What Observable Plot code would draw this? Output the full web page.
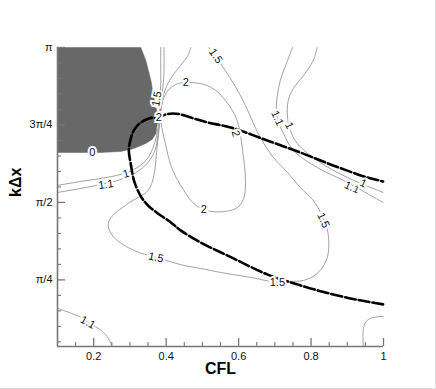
<!DOCTYPE html>
<html><head><meta charset="utf-8">
<script src="https://cdn.jsdelivr.net/npm/d3@7"></script>
<script src="https://cdn.jsdelivr.net/npm/@observablehq/plot@0.6"></script>
<style>
body{margin:0;background:#fff;}
#wrap{width:435px;height:388px;border-right:1px solid #dcdcdc;border-bottom:1px solid #dcdcdc;overflow:hidden;}
</style></head><body><div id="wrap"></div>
<script>
const PI = Math.PI;

// axis ticks
const xTickValues = [0.2, 0.4, 0.6, 0.8, 1];
const xTickLabels = ["0.2", "0.4", "0.6", "0.8", "1"];
const xMinorTicks = [0.15,0.25,0.3,0.35,0.45,0.5,0.55,0.65,0.7,0.75,0.85,0.9,0.95];
const yTickValues = [PI/4, PI/2, 3*PI/4, PI];
const yTickLabels = ["π/4", "π/2", "3π/4", "π"];
const yMinorTicks = [1,2,3,4,6,7,8,9,11,12,13,14,16,17,18,19].map(k => k*PI/20);

// gray region (amplification factor 0 region)
const zeroRegion = [[0.1,3.142],[0.330,3.142],[0.344,3.010],[0.358,2.807],[0.366,2.635],[0.374,2.503],[0.377,2.402],[0.374,2.331],[0.372,2.270],[0.361,2.209],[0.344,2.169],[0.311,2.118],[0.275,2.088],[0.220,2.077],[0.1,2.077]];

// thick dashed curve
const thickCurve = [[0.999,0.537],[0.935,0.578],[0.861,0.638],[0.770,0.730],[0.679,0.841],[0.586,1.003],[0.495,1.165],[0.440,1.287],[0.413,1.368],[0.377,1.459],[0.350,1.540],[0.330,1.632],[0.311,1.794],[0.303,1.946],[0.297,2.098],[0.303,2.229],[0.314,2.321],[0.330,2.381],[0.352,2.422],[0.372,2.432],[0.385,2.442],[0.399,2.463],[0.418,2.473],[0.440,2.463],[0.476,2.422],[0.515,2.381],[0.578,2.331],[0.679,2.199],[0.770,2.077],[0.861,1.946],[0.955,1.824],[0.999,1.784]];

// contour level 2 (loop through the singular point)
const c2Loop = [[0.383,2.452],[0.391,2.604],[0.405,2.706],[0.427,2.767],[0.454,2.787],[0.504,2.767],[0.537,2.706],[0.564,2.604],[0.586,2.483],[0.600,2.351],[0.611,2.098],[0.619,1.794],[0.614,1.611],[0.597,1.520],[0.564,1.480],[0.523,1.480],[0.495,1.510],[0.468,1.591],[0.449,1.692],[0.429,1.814],[0.413,1.946],[0.399,2.148],[0.388,2.331],[0.383,2.452]];

// contour level 1.5
const c15Main = [[0.518,3.142],[0.550,2.979],[0.586,2.777],[0.619,2.554],[0.641,2.371],[0.660,2.229],[0.696,2.027],[0.735,1.875],[0.770,1.723],[0.806,1.591],[0.834,1.409],[0.847,1.257],[0.845,1.013],[0.817,0.851],[0.779,0.780],[0.735,0.770],[0.707,0.760],[0.633,0.811],[0.550,0.861],[0.495,0.902],[0.449,0.932],[0.372,1.013],[0.311,1.084],[0.256,1.216],[0.240,1.338],[0.248,1.419],[0.295,1.561],[0.350,1.692],[0.366,1.844],[0.374,2.098],[0.380,2.300],[0.383,2.452]];
const c15Upper = [[0.468,3.142],[0.460,3.060],[0.440,2.959],[0.418,2.858],[0.402,2.757],[0.391,2.635],[0.383,2.452]];

// contour levels 1 and 1.1
const c1Left = [[0.1,1.743],[0.165,1.784],[0.220,1.814],[0.275,1.855],[0.311,1.905],[0.344,1.996],[0.363,2.118],[0.374,2.250],[0.380,2.402],[0.383,2.452]];
const c11Left = [[0.1,1.672],[0.165,1.713],[0.220,1.753],[0.275,1.804],[0.317,1.875],[0.350,1.976],[0.369,2.098],[0.377,2.250],[0.383,2.402],[0.383,2.452]];
const c1Up = [[0.385,3.142],[0.385,2.908],[0.385,2.757],[0.383,2.604],[0.383,2.452]];
const c11Up = [[0.394,3.142],[0.394,2.908],[0.391,2.736],[0.385,2.604],[0.383,2.452]];
const c11Right = [[0.749,3.142],[0.732,2.979],[0.715,2.807],[0.707,2.655],[0.704,2.523],[0.710,2.381],[0.724,2.270],[0.751,2.098],[0.817,1.925],[0.889,1.794],[0.999,1.571]];
const c1Right = [[0.817,3.142],[0.806,3.010],[0.779,2.858],[0.751,2.726],[0.737,2.604],[0.735,2.432],[0.743,2.300],[0.762,2.169],[0.817,1.996],[0.900,1.824],[0.999,1.672]];
const c11BottomLeft = [[0.1,0.497],[0.165,0.405],[0.184,0.355],[0.220,0.274],[0.240,0.193],[0.250,0.11]];
const c11BottomRight = [[0.999,0.415],[0.963,0.395],[0.949,0.345],[0.944,0.274],[0.944,0.11]];

const thinLines = [c2Loop, c15Main, c15Upper, c1Left, c11Left, c1Up, c11Up, c11Right, c1Right, c11BottomLeft, c11BottomRight];

// contour labels
const labelText = ["0","1.1","1","1.5","2","2","1.5","2","1.1","1","1.1","1","2","1.5","1.5","1.5","1.1"];
const labelX = [0.196,0.234,0.289,0.374,0.380,0.454,0.537,0.592,0.707,0.740,0.913,0.944,0.504,0.834,0.707,0.372,0.184];
const labelY = [2.077,1.753,1.860,2.620,2.430,2.787,3.055,2.270,2.425,2.350,1.723,1.763,1.500,1.390,0.760,1.013,0.355];
const labelAngle = [0,-8,-15,-80,0,0,55,75,65,65,25,25,0,65,0,12,28];
const labels = labelText.map((t,i) => ({t, x: labelX[i], y: labelY[i], r: labelAngle[i]}));

const W = 435, H = 388, mL = 57, mR = 52, mT = 47, mB = 42;
const frameW = W - mL - mR, frameH = H - mT - mB;
const axisColor = "#777";
const thinColor = "#8a8a8a";

const chart = Plot.plot({
  width: W, height: H,
  marginLeft: mL, marginRight: mR, marginTop: mT, marginBottom: mB,
  x: {domain: [0.1, 1]},
  y: {domain: [0.11, PI]},
  style: {fontFamily: "'Liberation Sans', Arial, Helvetica, sans-serif", fontSize: "11px", background: "white", color: "#111"},
  marks: [
    Plot.line(zeroRegion, {x: d => d[0], y: d => d[1], fill: "#686868", stroke: "#686868", strokeWidth: 0.5, curve: "linear"}),
    ...thinLines.map(c => Plot.line(c, {x: d => d[0], y: d => d[1], stroke: thinColor, strokeWidth: 0.8, curve: "catmull-rom"})),
    Plot.line(thickCurve, {x: d => d[0], y: d => d[1], stroke: "black", strokeWidth: 2.6, strokeDasharray: "11,3", curve: "catmull-rom"}),
    Plot.text(labels, {x: "x", y: "y", text: "t", rotate: "r", fontSize: 11, fill: "#111", stroke: "white", strokeWidth: 4, strokeLinejoin: "miter"}),
    // axes lines
    Plot.ruleY([0.11], {stroke: axisColor, strokeWidth: 1.6}),
    Plot.ruleX([0.1], {stroke: axisColor, strokeWidth: 1.6}),
    // inward ticks
    Plot.tickX(xTickValues, {x: d => d, insetTop: frameH - 8, stroke: axisColor, strokeWidth: 1.3}),
    Plot.tickX(xMinorTicks, {x: d => d, insetTop: frameH - 4, stroke: axisColor, strokeWidth: 1.1}),
    Plot.tickY(yTickValues, {y: d => d, insetRight: frameW - 8, stroke: axisColor, strokeWidth: 1.3}),
    Plot.tickY(yMinorTicks, {y: d => d, insetRight: frameW - 4, stroke: axisColor, strokeWidth: 1.1}),
    Plot.axisX({ticks: xTickValues, tickFormat: d => xTickLabels[xTickValues.indexOf(d)], tickSize: 0, tickPadding: 6, label: null, fontSize: 11}),
    Plot.axisY({ticks: yTickValues, tickFormat: d => yTickLabels[yTickValues.indexOf(d)], tickSize: 0, tickPadding: 5, label: null, fontSize: 11}),
    Plot.text(["CFL"], {frameAnchor: "bottom", dy: 27, fontSize: 16, fontWeight: "bold", fill: "#000"}),
    Plot.text(["kΔx"], {frameAnchor: "left", dx: -42, rotate: -90, fontSize: 16, fontWeight: "bold", fill: "#000"})
  ]
});
document.getElementById("wrap").appendChild(chart);
</script>
</body></html>
